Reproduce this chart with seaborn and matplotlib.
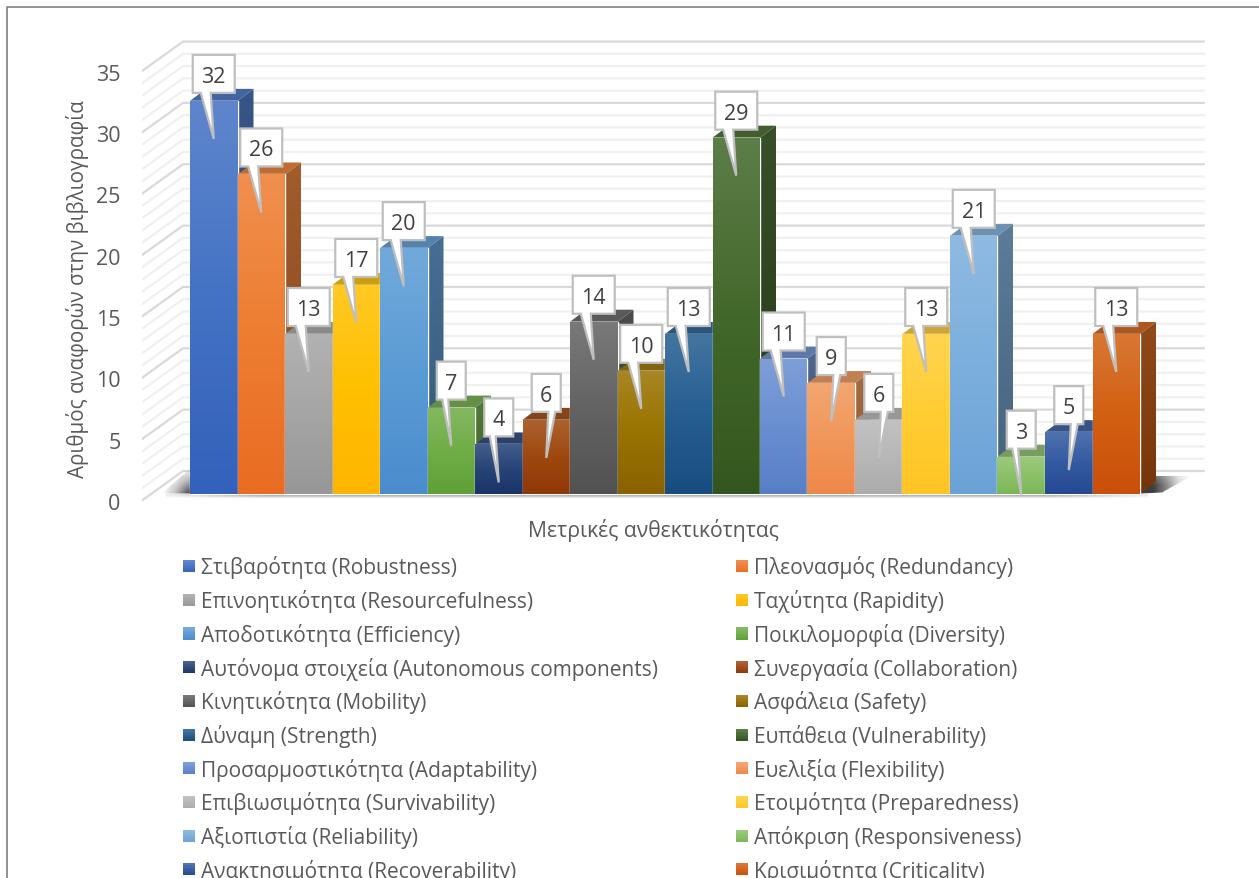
import numpy as np
import pandas as pd
import seaborn as sns
import matplotlib
matplotlib.use("Agg")
import matplotlib.pyplot as plt
from matplotlib.colors import to_rgb
from matplotlib.legend_handler import HandlerBase
from matplotlib.lines import Line2D
from matplotlib.patches import Patch, Polygon, Rectangle
from matplotlib.transforms import ScaledTranslation

metrics = [
    "Στιβαρότητα (Robustness)", "Πλεονασμός (Redundancy)",
    "Επινοητικότητα (Resourcefulness)", "Ταχύτητα (Rapidity)",
    "Αποδοτικότητα (Efficiency)", "Ποικιλομορφία (Diversity)",
    "Αυτόνομα στοιχεία (Autonomous components)", "Συνεργασία (Collaboration)",
    "Κινητικότητα (Mobility)", "Ασφάλεια (Safety)",
    "Δύναμη (Strength)", "Ευπάθεια (Vulnerability)",
    "Προσαρμοστικότητα (Adaptability)", "Ευελιξία (Flexibility)",
    "Επιβιωσιμότητα (Survivability)", "Ετοιμότητα (Preparedness)",
    "Αξιοπιστία (Reliability)", "Απόκριση (Responsiveness)",
    "Ανακτησιμότητα (Recoverability)", "Κρισιμότητα (Criticality)",
]
citations = [32, 26, 13, 17, 20, 7, 4, 6, 14, 10, 13, 29, 11, 9, 6, 13, 21, 3, 5, 13]
colors = [
    "#4472C4", "#ED7D31", "#A5A5A5", "#FFC000", "#5B9BD5", "#70AD47", "#264478",
    "#9E480E", "#636363", "#997300", "#255E91", "#43682B", "#698ED0", "#F1975A",
    "#B7B7B7", "#FFCD33", "#7CAFDD", "#8CC168", "#335AA1", "#D26012",
]
# Callouts whose pointer starts right of the box centre
right_leaning = {7, 13, 14, 18}

W, H = 1259, 879
DPI = 100
BASE_Y, LEFT_X = 494.5, 190
CAT_PX, UNIT_PX = 47.5, 12.27
AX_LEFT = 142

sns.set_theme(style="white")
plt.rcParams["font.family"] = ["Open Sans", "DejaVu Sans"]

fig = plt.figure(figsize=(W / DPI, H / DPI), dpi=DPI, facecolor="white")
ax = fig.add_axes([AX_LEFT / W, 0, (W - AX_LEFT) / W, 1], facecolor="none")

data = pd.DataFrame({"metric": metrics, "count": citations})
sns.barplot(data=data, x="metric", y="count", hue="metric", palette=colors,
            width=1.0, saturation=1, legend=False, ax=ax, zorder=3)

xlim = ((AX_LEFT - LEFT_X) / CAT_PX - 0.5, (W - LEFT_X) / CAT_PX - 0.5)
ylim = (-(H - BASE_Y) / UNIT_PX, BASE_Y / UNIT_PX)


def dx(px):
    return px / CAT_PX


def dy(px):
    return px / UNIT_PX


def shade(color, k):
    return tuple(min(1.0, c * k) for c in to_rgb(color))


def tint(color, k):
    return tuple(c + (1 - c) * k for c in to_rgb(color))


def deepen(color, g=1.2):
    return tuple(c ** g for c in to_rgb(color))


def gradient_image(stops, n=64):
    pos = np.linspace(0, 1, n)
    xs = np.linspace(0, 1, len(stops))
    arr = np.stack([np.interp(pos, xs, [s[i] for s in stops]) for i in range(3)], axis=1)
    return arr[:, None, :]


def fill_vertical(verts, stops, z):
    """Fill a polygon with a top-to-bottom colour ramp."""
    verts = np.asarray(verts)
    x0, y0 = verts.min(axis=0)
    x1, y1 = verts.max(axis=0)
    im = ax.imshow(gradient_image(stops), extent=(x0, x1, y0, y1), origin="upper",
                   aspect="auto", interpolation="bilinear", zorder=z)
    clip = Polygon(verts, closed=True, transform=ax.transData, facecolor="none", edgecolor="none")
    im.set_clip_path(clip)


def fill_fade(verts, ramp_x, ramp_y, z, rgb=(0.2, 0.2, 0.2)):
    """Fill a polygon with a dark tone whose opacity is the product of two ramps."""
    verts = np.asarray(verts)
    x0, y0 = verts.min(axis=0)
    x1, y1 = verts.max(axis=0)
    n = 64
    ax_ramp = np.interp(np.linspace(0, 1, n), np.linspace(0, 1, len(ramp_x)), ramp_x)
    ay_ramp = np.interp(np.linspace(0, 1, n), np.linspace(0, 1, len(ramp_y)), ramp_y)
    rgba = np.zeros((n, n, 4))
    rgba[..., :3] = rgb
    rgba[..., 3] = np.outer(ay_ramp, ax_ramp)
    im = ax.imshow(rgba, extent=(x0, x1, y0, y1), origin="upper", aspect="auto",
                   interpolation="bilinear", zorder=z)
    im.set_clip_path(Polygon(verts, closed=True, transform=ax.transData,
                             facecolor="none", edgecolor="none"))


# Back wall and side wall rulings
wall_left = (183 - LEFT_X) / CAT_PX - 0.5
wall_right = (1204 - LEFT_X) / CAT_PX - 0.5
wall_front = xlim[0]
back_lift = dy(BASE_Y - 472)
front_drop = dy(501.5 - BASE_Y)
for v in range(0, 36):
    major = v % 5 == 0
    col = "#D9D9D9" if major else "#F0F0F0"
    ax.plot([wall_front, wall_left, wall_right],
            [v - front_drop, v + back_lift, v + back_lift],
            color=col, lw=1.6, zorder=2 if major else 1.5, solid_joinstyle="miter")

# Floor shadow around the foot of the bars
right_edge = len(citations) - 0.5
fill_fade([(-0.5, 0), (-0.5, dy(25)), (-0.5 - dx(28), 0)],
          [0, 0.35, 0.95], [0.05, 0.45, 1], 2.5)
fill_fade([(right_edge, 0), (right_edge + dx(16), dy(18)), (right_edge + dx(52), dy(18)),
           (right_edge + dx(22), dy(1))],
          [0.95, 0.95, 0.6, 0.18, 0], [0.75, 1, 1], 2.5)
fill_fade([(-0.5 - dx(24), 0), (right_edge + dx(8), 0), (right_edge + dx(8), dy(-5)),
           (-0.5 - dx(24), dy(-5))],
          [0.2, 1, 1, 1, 1, 1, 1, 1, 1, 1, 1, 0.2], [0.6, 0.42, 0.1, 0], 2.6)

# Bars: extruded sides first, then the front face, painted left to right
bars = list(ax.patches)
for i, (bar, v, c) in enumerate(zip(bars, citations, colors)):
    z = 3 + i
    l, r = bar.get_x(), bar.get_x() + bar.get_width()
    ox, oy = dx(16), dy(12)
    fill_vertical([(r, 0), (r + ox, oy), (r + ox, v + oy), (r, v)],
                  [shade(tint(c, 0.08), 0.68), shade(c, 0.56)], z)
    ax.add_patch(Polygon([(l, v), (l + ox, v + oy), (r + ox, v + oy), (r, v)], closed=True,
                         facecolor=shade(tint(c, 0.08), 0.8), edgecolor="none", zorder=z + 0.1))
    bar.set_zorder(z + 0.2)
    fill_vertical([(l, 0), (r, 0), (r, v), (l, v)],
                  [tint(c, 0.14), to_rgb(c), deepen(c)], z + 0.3)

# Value callouts
for i, v in enumerate(citations):
    half = dx(21 if v >= 10 else 14.5)
    tip = (i + 0.0, v - dy(38))
    bottom, top = v + dy(8), v + dy(46)
    if i in right_leaning:
        b0, b1 = i + dx(2), i + dx(9)
    elif v >= 10:
        b0, b1 = i - dx(13), i - dx(3)
    else:
        b0, b1 = i - dx(9), i - dx(3)
    outline = [(i - half, top), (i + half, top), (i + half, bottom), (b1, bottom), tip,
               (b0, bottom), (i - half, bottom)]
    ax.add_patch(Polygon(outline, closed=True, facecolor="white", edgecolor="#BFBFBF",
                         lw=1.6, joinstyle="miter", zorder=100))
    ax.text(i, (top + bottom) / 2, str(v), ha="center", va="center_baseline",
            fontsize=15.5, color="#404040", zorder=101)

ax.set_xlim(xlim)
ax.set_ylim(ylim)
ax.set_xticks([])
ax.set_yticks(range(0, 36, 5))
ax.tick_params(axis="y", length=0, pad=15.5, labelsize=15.5, labelcolor="#595959")
tick_shift = ScaledTranslation(0, -7.5 / DPI, fig.dpi_scale_trans)
for lab in ax.get_yticklabels():
    lab.set_transform(lab.get_transform() + tick_shift)
for s in ax.spines.values():
    s.set_visible(False)

ax.set_ylabel("Αριθμός αναφορών στην βιβλιογραφία", fontsize=14.9, color="#595959", va="center")
ax.yaxis.set_label_coords((78 - AX_LEFT) / (W - AX_LEFT), 1 - 289 / H)
ax.set_xlabel("Μετρικές ανθεκτικότητας", fontsize=15.2, color="#595959", va="center")
ax.xaxis.set_label_coords((653 - AX_LEFT) / (W - AX_LEFT), 1 - 530 / H)


class GradientSwatch(HandlerBase):
    def create_artists(self, legend, orig_handle, xdescent, ydescent, width, height, fontsize, trans):
        c = orig_handle.get_facecolor()
        side = 12 * 72 / DPI
        n = 8
        y0 = (height - side) / 2 - ydescent
        top, bottom = np.array(tint(c, 0.16)), np.array(deepen(c))
        strips = []
        for k in range(n):
            col = bottom + (top - bottom) * (k + 0.5) / n
            strips.append(Rectangle((-xdescent, y0 + side * k / n), side, side / n + 0.1,
                                    facecolor=col, edgecolor="none", transform=trans))
        return strips


handles = [Patch(facecolor=c, label=m) for c, m in zip(colors, metrics)]
ordered = handles[0::2] + handles[1::2]
leg = fig.legend(handles=ordered, ncols=2, loc="upper left",
                 bbox_to_anchor=(183 / W, 1 - 556.5 / H), frameon=False, fontsize=15,
                 handler_map={Patch: GradientSwatch()}, labelcolor="#595959",
                 borderpad=0, borderaxespad=0, handlelength=0.58, handletextpad=0.3,
                 labelspacing=0.513, columnspacing=3.73)

# Chart area border, cut off by the canvas on the other sides
border = "#7F7F7F"
fig.add_artist(Line2D([6.5 / W, 6.5 / W, 1], [0, 1 - 7.5 / H, 1 - 7.5 / H], color=border,
                      lw=1.2, transform=fig.transFigure))

fig.savefig("out.png", dpi=DPI)
